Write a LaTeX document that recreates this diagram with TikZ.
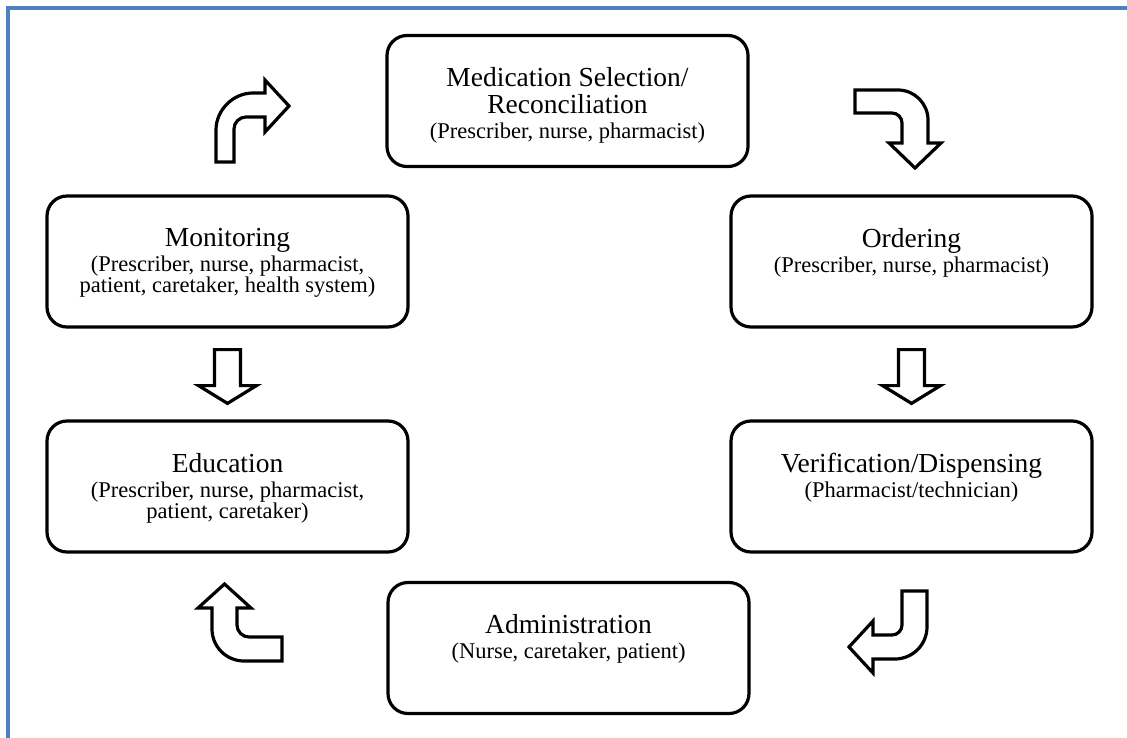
\documentclass[tikz,border=0pt]{standalone}
\usepackage{fontspec}
\setmainfont{Liberation Serif}
\usepackage{xcolor}
\usepackage{tikz}
\usetikzlibrary{calc}
\definecolor{frameblue}{HTML}{4F81BD}

\newcommand{\stagetext}[2]{\parbox[c][131pt][t]{350pt}{\centering\lineskiplimit=-100pt
    \vspace*{32pt}\fontsize{27.5}{27}\selectfont #1\par
    \vspace{4pt}\fontsize{22.5}{21}\selectfont #2\par}}

\begin{document}
\begin{tikzpicture}[x=1pt,y=-1pt,
        stage/.style={draw,line width=3.2pt,rounded corners=20pt,minimum width=361pt,minimum height=131pt,inner sep=0pt},
        blockarrow/.style={draw,line width=3.2pt,fill=white}]
        \useasboundingbox (0,0) rectangle (1127,738);
        \draw[frameblue,line width=4pt] (8,738) -- (8,8) -- (1127,8);

        \node[stage] (med) at (567.5,101) {\stagetext{Medication Selection/\\Reconciliation}{(Prescriber, nurse, pharmacist)}};
        \node[stage] (order) at (911.5,261.5) {\stagetext{Ordering}{(Prescriber, nurse, pharmacist)}};
        \node[stage] (verif) at (911.5,486.5) {\stagetext{Verification/Dispensing}{(Pharmacist/technician)}};
        \node[stage] (admin) at (568.5,648) {\stagetext{Administration}{(Nurse, caretaker, patient)}};
        \node[stage] (edu) at (227.5,486.5) {\stagetext{Education}{(Prescriber, nurse, pharmacist,\\patient, caretaker)}};
        \node[stage] (mon) at (227.5,261.5) {\stagetext{Monitoring}{(Prescriber, nurse, pharmacist,\\patient, caretaker, health system)}};

        % bent arrows
        \draw[blockarrow] (855,90) -- (898,90) .. controls (914.5,90) and (928,103.5) .. (928,120) -- (928,143) -- (941,143) -- (915,168) -- (889,143) -- (902,143) -- (902,123) .. controls (902,117.5) and (897.5,113) .. (892,113) -- (855,113) -- cycle;
        \draw[blockarrow] (902,591) -- (927,591) -- (927,627) .. controls (927,644.6) and (912.6,659) .. (895,659) -- (873,659) -- (873,673) -- (849,647) -- (873,621) -- (873,635) -- (892,635) .. controls (897.5,635) and (902,630.5) .. (902,625) -- cycle;
        \draw[blockarrow] (282,637) -- (249,637) .. controls (242.4,637) and (237,631.6) .. (237,625) -- (237,608) -- (251,608) -- (224.5,584) -- (198,608) -- (212,608) -- (212,629) .. controls (212,646.7) and (226.3,661) .. (244,661) -- (282,661) -- cycle;
        \draw[blockarrow] (216,162) -- (216,130) .. controls (216,110) and (233,93) .. (253,93) -- (265,93) -- (265,80) -- (289,106) -- (265,132) -- (265,117) -- (246,117) .. controls (239.4,117) and (234,122.4) .. (234,129) -- (234,162) -- cycle;

        % straight arrows
        \draw[blockarrow] ($(order.south)+(-13,21)$) -- ++(0,36) -- ++(-16,0) -- ($(verif.north)+(0,-16)$) -- ($(order.south)+(29,57)$) -- ++(-16,0) -- ($(order.south)+(13,21)$) -- cycle;
        \draw[blockarrow] ($(mon.south)+(-13,21)$) -- ++(0,36) -- ++(-16,0) -- ($(edu.north)+(0,-16)$) -- ($(mon.south)+(29,57)$) -- ++(-16,0) -- ($(mon.south)+(13,21)$) -- cycle;
\end{tikzpicture}
\end{document}
